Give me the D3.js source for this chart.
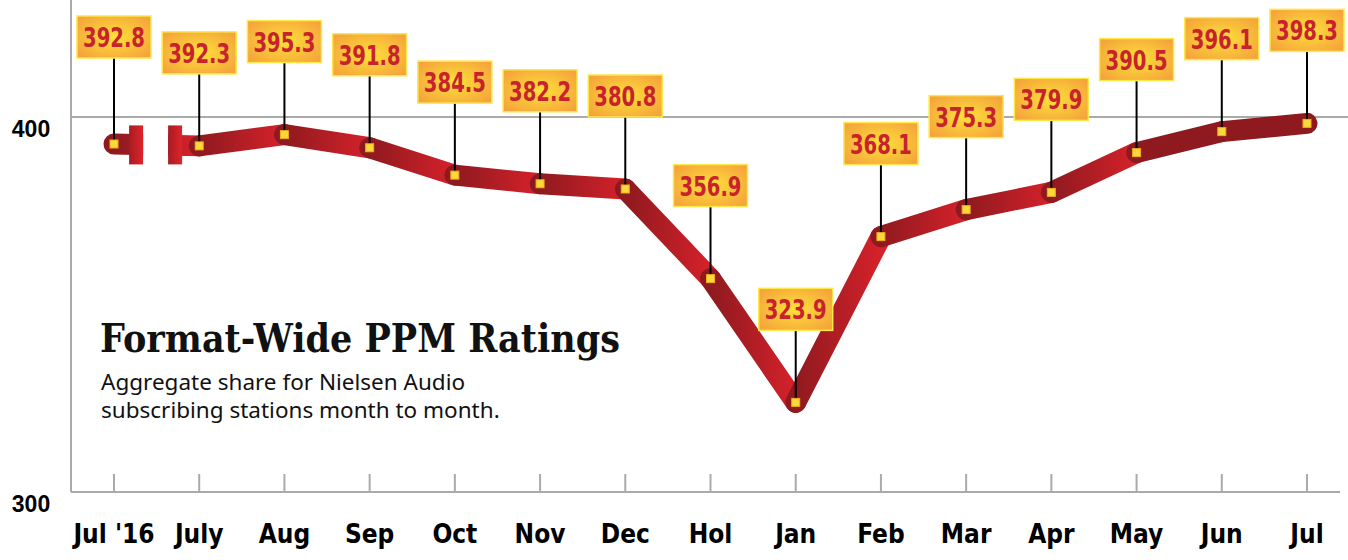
<!DOCTYPE html>
<html>
<head>
<meta charset="utf-8">
<script src="https://cdn.jsdelivr.net/npm/d3@7"></script>
<style>
  body { margin: 0; background: #fff; }
  svg { display: block; }
  .lbl { font-family: "Liberation Sans Narrow", "DejaVu Sans Condensed", sans-serif; font-weight: bold; }
</style>
</head>
<body>
<svg id="chart" width="1348" height="560"></svg>
<script>
// months along the bottom
const months = ["Jul '16", "July", "Aug", "Sep", "Oct", "Nov", "Dec", "Hol", "Jan", "Feb", "Mar", "Apr", "May", "Jun", "Jul"];
// aggregate PPM share per month
const ratings = [392.8, 392.3, 395.3, 391.8, 384.5, 382.2, 380.8, 356.9, 323.9, 368.1, 375.3, 379.9, 390.5, 396.1, 398.3];
const yTicks = [300, 400];
const titleText = "Format-Wide PPM Ratings";
const subLines = ["Aggregate share for Nielsen Audio", "subscribing stations month to month."];

const W = 1348, H = 560;
const dark = "#8e1a1f", bright = "#d6212a";

var svg = d3.select("#chart");
var defs = svg.append("defs");

var x = d3.scalePoint().domain(months).range([114, 1307]);
var y = d3.scaleLinear().domain([300, 400]).range([492, 117]);

// label box gradient
var rg = defs.append("radialGradient").attr("id", "boxFill").attr("cx", "50%").attr("cy", "50%").attr("r", "65%");
rg.append("stop").attr("offset", "0%").attr("stop-color", "#fde13a");
rg.append("stop").attr("offset", "100%").attr("stop-color", "#f5a23a");

// axes
svg.append("line").attr("x1", 71).attr("x2", 71).attr("y1", 0).attr("y2", y(300))
	.attr("stroke", "#aaa").attr("stroke-width", 2);
svg.append("line").attr("x1", 71).attr("x2", 1340).attr("y1", y(300)).attr("y2", y(300))
	.attr("stroke", "#aaa").attr("stroke-width", 2);
svg.append("line").attr("x1", 71).attr("x2", W).attr("y1", y(400)).attr("y2", y(400))
	.attr("stroke", "#aaa").attr("stroke-width", 2);

svg.append("g").selectAll("line").data(months).enter().append("line")
	.attr("x1", d => x(d)).attr("x2", d => x(d))
	.attr("y1", y(300) - 18).attr("y2", y(300))
	.attr("stroke", "#aaa").attr("stroke-width", 2);

svg.append("g").selectAll("text").data(yTicks).enter().append("text")
	.attr("x", 31).attr("y", d => y(d) + 20)
	.attr("text-anchor", "middle")
	.style("font-family", "'Liberation Sans', sans-serif").style("font-weight", "bold")
	.style("font-size", "23px").attr("fill", "#000")
	.text(d => d);

svg.append("g").selectAll("text").data(months).enter().append("text")
	.attr("class", "lbl")
	.attr("x", d => x(d)).attr("y", 543)
	.attr("text-anchor", "middle")
	.style("font-size", "26px").attr("fill", "#000")
	.text(d => d);

// title block
svg.append("text").attr("x", 100).attr("y", 352)
	.style("font-family", "'DejaVu Serif', serif").style("font-weight", "bold")
	.style("font-size", "39px").attr("fill", "#111")
	.attr("textLength", 520).attr("lengthAdjust", "spacingAndGlyphs")
	.text(titleText);

svg.append("g").selectAll("text").data(subLines).enter().append("text")
	.attr("x", 101).attr("y", (d, i) => 390 + i * 28)
	.style("font-family", "'Noto Sans', sans-serif")
	.style("font-size", "22.5px").attr("fill", "#111")
	.text(d => d);

// line segments, each fading dark -> bright
var pts = months.map((m, i) => [x(m), y(ratings[i])]);
var gSeg = svg.append("g");
d3.range(pts.length - 1).forEach(function(i) {
	var a = pts[i], b = pts[i + 1];
	var lg = defs.append("linearGradient").attr("id", "seg" + i)
		.attr("gradientUnits", "userSpaceOnUse")
		.attr("x1", a[0]).attr("x2", b[0]).attr("y1", 0).attr("y2", 0);
	lg.append("stop").attr("offset", "0%").attr("stop-color", dark);
	lg.append("stop").attr("offset", "100%").attr("stop-color", i >= 12 ? dark : bright);
	gSeg.append("path")
		.attr("d", d3.line()([a, b]))
		.attr("fill", "none")
		.attr("stroke", "url(#seg" + i + ")")
		.attr("stroke-width", 21)
		.attr("stroke-linecap", "round");

	if (i === 0) {
		// axis break between the first two months
		var mid = (a[0] + b[0]) / 2 - 1;
		var ly = a[1] + (b[1] - a[1]) * (mid - a[0]) / (b[0] - a[0]);
		gSeg.append("rect").attr("x", mid - 12.5).attr("width", 25)
			.attr("y", ly - 25).attr("height", 50).attr("fill", "#fff");
		var bg = defs.append("linearGradient").attr("id", "brk");
		bg.append("stop").attr("offset", "0%").attr("stop-color", "#a61c23");
		bg.append("stop").attr("offset", "100%").attr("stop-color", "#e0232b");
		[mid - 26.5, mid + 12.5].forEach(function(bx) {
			gSeg.append("rect").attr("x", bx).attr("width", 14)
				.attr("y", ly - 19.5).attr("height", 39).attr("fill", "url(#brk)");
		});
	}
});

// value labels with leader lines
var lab = svg.append("g").selectAll("g").data(ratings).enter().append("g")
	.attr("transform", (d, i) => "translate(" + x(months[i]) + "," + y(d) + ")");

var lead = (d, i) => (i === 0 ? 86 : 72);

lab.append("line").attr("x1", 0).attr("x2", 0).attr("y1", 0)
	.attr("y2", (d, i) => -lead(d, i))
	.attr("stroke", "#000").attr("stroke-width", 2);

lab.append("rect")
	.attr("x", -37).attr("width", 74)
	.attr("y", (d, i) => -lead(d, i) - 42).attr("height", 42)
	.attr("fill", "url(#boxFill)")
	.attr("stroke", "#fce84a").attr("stroke-width", 1.5);

lab.append("text").attr("class", "lbl")
	.attr("x", 0).attr("y", (d, i) => -lead(d, i) - 11)
	.attr("text-anchor", "middle")
	.attr("textLength", 62).attr("lengthAdjust", "spacingAndGlyphs")
	.style("font-size", "27px").attr("fill", "#c8232d")
	.text(d => d.toFixed(1));

// point markers
lab.append("rect").attr("x", -4).attr("y", -4).attr("width", 8).attr("height", 8)
	.attr("fill", "#fbd83a").attr("stroke", "#f0ac1e").attr("stroke-width", 1);
</script>
</body>
</html>
